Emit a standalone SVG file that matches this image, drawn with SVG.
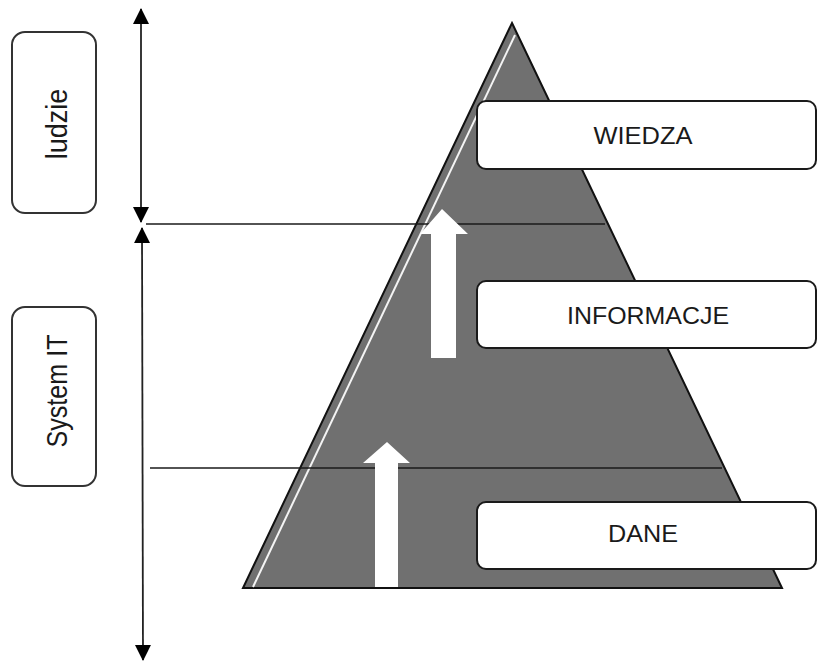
<svg xmlns="http://www.w3.org/2000/svg" width="817" height="661" viewBox="0 0 817 661">
  <defs>
    <marker id="tip" viewBox="0 0 16 16" refX="15" refY="8" markerWidth="16" markerHeight="16" markerUnits="userSpaceOnUse" orient="auto-start-reverse">
      <path d="M0,0 L16,8 L0,16 Z" fill="#000"/>
    </marker>
  </defs>
  <style>
    .label { font-family: "Liberation Sans", Arial, sans-serif; fill: #1a1a1a; }
    .side { fill: #fff; stroke: #333; stroke-width: 2; }
    .level { fill: #fff; stroke: #1a1a1a; stroke-width: 2; }
    .divider { stroke: #1a1a1a; stroke-width: 1.6; fill: none; }
    .span { stroke: #222; stroke-width: 1.8; fill: none; }
    .flow { fill: #fff; }
  </style>
  <rect width="817" height="661" fill="#fff"/>

  <!-- pyramid body -->
  <g id="pyramid">
    <polygon points="512,23 782,588 243,588" fill="#707070" stroke="#111" stroke-width="2" stroke-linejoin="miter"/>
    <line x1="515" y1="35" x2="253" y2="587" stroke="#f4f4f4" stroke-width="2"/>
  </g>

  <!-- level dividers and span arrows -->
  <g id="connectors">
    <line class="divider" x1="146" y1="224" x2="605" y2="224"/>
    <line class="divider" x1="150" y1="468" x2="722" y2="468"/>
    <line class="span" x1="141" y1="9" x2="141" y2="222" marker-start="url(#tip)" marker-end="url(#tip)"/>
    <line class="span" x1="142" y1="228" x2="143" y2="660" marker-start="url(#tip)" marker-end="url(#tip)"/>
  </g>

  <!-- upward flow arrows -->
  <g id="flow-upper">
    <polygon class="flow" points="442,209 468,234 456,234 456,358 431,358 431,234 420,234"/>
  </g>
  <g id="flow-lower">
    <polygon class="flow" points="387,442 410,463 398,463 398,587 375,587 375,463 363,463"/>
  </g>

  <!-- pyramid levels -->
  <g id="wiedza">
    <rect class="level" x="477" y="101" width="339" height="68" rx="9"/>
    <text class="label" x="643" y="144" font-size="24" text-anchor="middle" textLength="99" lengthAdjust="spacingAndGlyphs">WIEDZA</text>
  </g>
  <g id="informacje">
    <rect class="level" x="477" y="281" width="339" height="67" rx="9"/>
    <text class="label" x="648" y="324" font-size="24" text-anchor="middle" textLength="162" lengthAdjust="spacingAndGlyphs">INFORMACJE</text>
  </g>
  <g id="dane">
    <rect class="level" x="477" y="502" width="339" height="67" rx="9"/>
    <text class="label" x="643" y="542" font-size="24" text-anchor="middle" textLength="70" lengthAdjust="spacingAndGlyphs">DANE</text>
  </g>

  <!-- side groups -->
  <g id="ludzie">
    <rect class="side" x="12" y="32" width="84" height="181" rx="13"/>
    <text class="label" transform="translate(67,124) rotate(-90) scale(1,1.1)" font-size="27" text-anchor="middle">ludzie</text>
  </g>
  <g id="system-it">
    <rect class="side" x="12" y="307" width="84" height="179" rx="13"/>
    <text class="label" transform="translate(67,391) rotate(-90) scale(1,1.18)" font-size="25" text-anchor="middle" textLength="113" lengthAdjust="spacingAndGlyphs">System IT</text>
  </g>
</svg>
